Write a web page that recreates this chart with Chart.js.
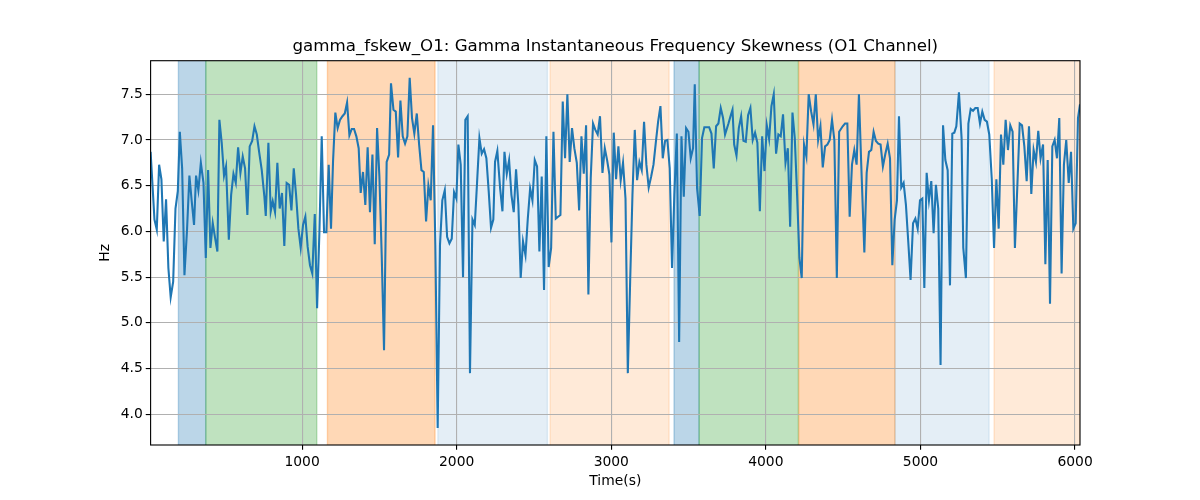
<!DOCTYPE html>
<html><head><meta charset="utf-8">
<script src="https://cdn.jsdelivr.net/npm/chart.js@4.4.1/dist/chart.umd.min.js"></script>
<style>html,body{margin:0;padding:0;background:#fff}</style>
</head><body>
<canvas id="c" width="1200" height="500"></canvas>
<script>
const chartTitle = 'gamma_fskew_O1: Gamma Instantaneous Frequency Skewness (O1 Channel)';
const xLabel = 'Time(s)';
const yLabel = 'Hz';
const times = [
20,45,60,75,90,105,120,135,150,166,181,196,209,224,239,256,271,286,301,314,329,345,362,377,392,407,422,437,452,465,480,495,508,526,541,556,571,586,601,616,631,646,661,677,692,707,722,739,756,
765,782,797,810,825,840,855,870,885,900,916,931,946,961,976,991,1006,1021,1036,1051,1066,1082,1097,1112,1127,1142,1157,1172,1187,1200,1215,1230,1245,1261,1276,1291,1306,1321,1336,1351,1366,1379,1394,1409,1424,1439,1455,1470,1485,
1500,1515,1530,1547,1563,1575,1591,1606,1621,1636,1651,1666,1681,1696,1711,1726,1742,1757,1772,1787,1802,1817,1832,1847,1862,1877,1892,1907,1923,1938,1953,1968,1983,1998,2011,2026,2041,2056,2071,2086,2102,2117,2132,2147,2162,2177,2192,2207,2222,2237,2248,
2263,2281,2296,2309,2324,2339,2354,2369,2384,2399,2414,2429,2445,2460,2475,2490,2505,2520,2535,2550,2565,2580,2595,2611,2626,2641,2656,2671,2686,2701,2716,2731,2746,2761,2777,2792,2807,2822,2837,2852,2867,2882,2897,2912,2927,2943,2958,2973,2988,
3001,3016,3031,3046,3061,3076,3092,3107,3122,3137,3152,3167,3182,3197,3212,3227,3242,3258,3273,3288,3303,3318,3333,3348,3363,3378,3393,3408,3424,3439,3454,3469,3484,3499,3514,3529,3540,3555,3572,3587,3602,3618,3633,3648,3663,3678,3693,3708,3723,3736,
3758,3773,3784,3795,3810,3825,3840,3855,3870,3885,3900,3915,3930,3945,3961,3976,3991,4006,4021,4036,4051,4066,4081,4096,4111,4127,4142,4157,4172,4187,4202,4217,4232,4247,4262,4277,4293,4308,4323,4338,4353,4368,4383,4398,4413,4428,4443,4459,4474,
4497,4512,4527,4542,4557,4572,4587,4602,4617,4637,4652,4667,4682,4697,4712,4727,4742,4757,4773,4788,4803,4818,4833,4848,4861,4876,4891,4906,4921,4936,4952,4967,4982,4997,5012,5025,5040,5055,5070,5085,5100,5115,5130,5146,5161,5176,5191,5206,5219,
5232,5249,5266,5277,5294,5310,5325,5340,5355,5370,5385,5400,5415,5430,5445,5461,5476,5491,5506,5521,5536,5551,5566,5581,5596,5611,5627,5642,5657,5672,5687,5702,5717,5732,5747,5762,5777,5793,5808,5823,5838,5853,5868,5883,5898,5913,5928,5943,5959,5974,5989,6004,6019,6032
];
const values = [
6.87,6.13,6.02,6.73,6.57,5.89,6.35,5.60,5.28,5.45,6.25,6.44,7.09,6.69,5.52,6.03,6.61,6.33,6.07,6.61,6.45,6.75,6.53,5.71,6.67,5.82,6.09,5.93,5.78,7.22,6.97,6.61,6.71,5.91,6.40,6.63,6.53,6.92,6.64,6.82,6.69,6.18,6.93,6.99,7.15,7.06,6.87,6.67,6.38,
6.17,6.97,6.22,6.33,6.21,6.75,6.25,6.42,5.84,6.53,6.51,6.23,6.69,6.40,6.03,5.82,6.07,6.16,5.83,5.63,5.54,6.19,5.16,6.00,7.04,5.99,5.99,6.73,6.03,6.76,7.30,7.13,7.22,7.26,7.29,7.41,7.05,7.12,7.12,7.04,6.91,6.42,6.65,6.29,6.92,6.21,6.84,5.86,7.13,
6.60,5.74,4.70,6.76,6.84,7.62,7.33,7.31,6.81,7.43,7.04,6.96,7.04,7.68,7.24,7.07,7.29,6.95,6.67,6.65,6.11,6.50,6.34,7.16,5.85,3.85,5.85,6.34,6.45,5.94,5.87,5.92,6.43,6.36,6.95,6.73,5.50,7.22,7.26,4.45,6.13,6.07,6.54,7.02,6.85,6.90,6.80,6.44,6.04,6.13,6.76,
6.88,6.47,6.22,6.87,6.63,6.78,6.40,6.21,6.68,6.29,5.49,5.89,5.74,6.14,6.47,6.34,6.78,6.71,5.78,6.60,5.36,7.04,5.61,5.82,7.09,6.14,6.16,6.18,7.42,6.80,7.50,6.76,7.13,6.91,6.75,6.23,7.04,6.63,7.16,5.31,6.58,7.18,7.11,7.06,7.26,6.64,6.91,6.78,6.62,
5.88,7.08,6.57,6.93,6.56,6.75,6.36,4.45,5.45,6.40,7.11,6.56,6.76,6.67,7.20,6.73,6.48,6.60,6.73,6.97,7.20,7.37,6.80,6.99,7.00,6.69,5.60,6.40,7.07,4.79,7.04,6.38,7.13,7.09,6.80,6.91,7.61,6.47,6.17,7.02,7.14,7.14,7.14,7.07,6.69,7.15,7.18,7.35,7.24,7.06,
7.18,7.27,7.33,6.95,6.83,7.13,7.26,6.99,6.98,7.27,7.35,7.00,7.08,6.97,6.22,7.04,6.66,7.16,7.01,7.37,7.50,6.85,7.06,7.04,7.28,6.75,6.91,6.05,7.30,7.02,6.40,5.71,5.49,6.95,6.82,7.50,7.31,7.17,7.50,7.00,7.15,6.70,6.93,6.95,7.00,7.22,7.00,5.49,7.09,
7.15,7.18,7.18,6.16,6.73,6.89,6.73,7.50,6.73,5.77,6.64,6.87,6.89,7.09,6.99,6.96,6.95,6.71,6.85,6.96,6.80,5.63,6.13,6.34,7.26,6.48,6.53,6.29,5.89,5.47,6.09,6.14,6.03,6.34,6.36,5.38,6.64,6.34,6.55,5.98,6.51,6.25,4.54,7.16,6.78,6.67,5.41,7.07,7.08,
7.15,7.52,7.02,5.82,5.49,7.18,7.34,7.32,7.35,7.35,7.18,7.31,7.22,7.20,7.06,6.58,5.82,6.57,6.03,7.06,6.73,7.22,6.89,7.16,7.09,5.82,6.51,7.18,7.16,6.93,6.55,7.15,6.41,6.89,6.76,7.10,6.80,6.95,5.64,6.78,5.21,6.93,7.00,6.80,7.24,5.54,6.73,7.00,6.53,6.87,6.03,6.09,7.24,7.39
];
const xTicks = [1000, 2000, 3000, 4000, 5000, 6000];
const yTicks = [4.0, 4.5, 5.0, 5.5, 6.0, 6.5, 7.0, 7.5];
const xLimits = [20, 6032];
const yLimits = [3.664, 7.867];
// shaded phases (start, end, phase index)
const spanStart = [200, 377, 1164, 1878, 2604, 3406, 3568, 4213, 4835, 5476];
const spanEnd   = [377, 1095, 1860, 2587, 3374, 3568, 4210, 4835, 5444, 6032];
const spanPhase = [0, 1, 2, 3, 4, 0, 1, 2, 3, 4];

const phaseFill = ['rgba(31,119,180,0.3)','rgba(44,160,44,0.3)','rgba(255,127,14,0.3)','rgba(31,119,180,0.12)','rgba(255,127,14,0.16)'];

const spansPlugin = {
  id: 'spans',
  beforeDraw(chart) {
    const {ctx, chartArea: a, scales: {x}} = chart;
    ctx.save();
    ctx.beginPath(); ctx.rect(a.left, a.top, a.right - a.left, a.bottom - a.top); ctx.clip();
    for (let i = 0; i < spanStart.length; i++) {
      const x0 = x.getPixelForValue(spanStart[i]);
      const x1 = x.getPixelForValue(spanEnd[i]);
      ctx.fillStyle = phaseFill[spanPhase[i]];
      ctx.fillRect(x0, a.top, x1 - x0, a.bottom - a.top);
      ctx.strokeStyle = phaseFill[spanPhase[i]];
      ctx.lineWidth = 1.39;
      ctx.beginPath();
      ctx.moveTo(x0, a.top); ctx.lineTo(x0, a.bottom);
      ctx.moveTo(x1, a.top); ctx.lineTo(x1, a.bottom);
      ctx.stroke();
    }
    ctx.restore();
  }
};
const framePlugin = {
  id: 'frame',
  afterDatasetsDraw(chart) {
    const {ctx, chartArea: a} = chart;
    ctx.save();
    ctx.strokeStyle = '#000';
    ctx.lineWidth = 1.11;
    ctx.strokeRect(a.left, a.top, a.right - a.left, a.bottom - a.top);
    ctx.restore();
  }
};

const tickFont = {family: 'DejaVu Sans', size: 13.89};
new Chart(document.getElementById('c'), {
  type: 'line',
  data: {
    datasets: [{
      data: times.map((t, i) => ({x: t, y: values[i]})),
      borderColor: '#1f77b4',
      borderWidth: 2.08,
      pointRadius: 0,
      tension: 0,
      fill: false
    }]
  },
  options: {
    responsive: false,
    animation: false,
    devicePixelRatio: 1,
    layout: {padding: {left: 0, right: 120, top: 0, bottom: 0}},
    plugins: {
      legend: {display: false},
      tooltip: {enabled: false},
      title: {
        display: true, text: chartTitle, fullSize: false, color: '#000',
        font: {family: 'DejaVu Sans', size: 16.67, weight: 'normal', lineHeight: 1.2},
        padding: {top: 37, bottom: 3.7}
      }
    },
    scales: {
      x: {
        type: 'linear', min: xLimits[0], max: xLimits[1],
        afterBuildTicks: s => { s.ticks = xTicks.map(v => ({value: v})); },
        afterFit: s => { s.height = 55; },
        ticks: {color: '#000', font: tickFont, padding: 4, maxRotation: 0, autoSkip: false, callback: v => String(v)},
        grid: {color: '#b0b0b0', lineWidth: 1.11, tickColor: '#000', tickLength: 4.86, tickWidth: 1.11},
        border: {display: false},
        title: {display: true, text: xLabel, color: '#000', font: tickFont, padding: {top: 0, bottom: 10.7}}
      },
      y: {
        type: 'linear', min: yLimits[0], max: yLimits[1],
        afterBuildTicks: s => { s.ticks = yTicks.map(v => ({value: v})); },
        afterFit: s => { s.width = 150.6; },
        ticks: {color: '#000', font: tickFont, padding: 3, autoSkip: false, callback: v => Number(v).toFixed(1)},
        grid: {color: '#b0b0b0', lineWidth: 1.11, tickColor: '#000', tickLength: 4.86, tickWidth: 1.11},
        border: {display: false},
        title: {display: true, text: yLabel, color: '#000', font: tickFont, padding: {top: 96.7, bottom: 0}}
      }
    }
  },
  plugins: [spansPlugin, framePlugin]
});
</script>
</body></html>
